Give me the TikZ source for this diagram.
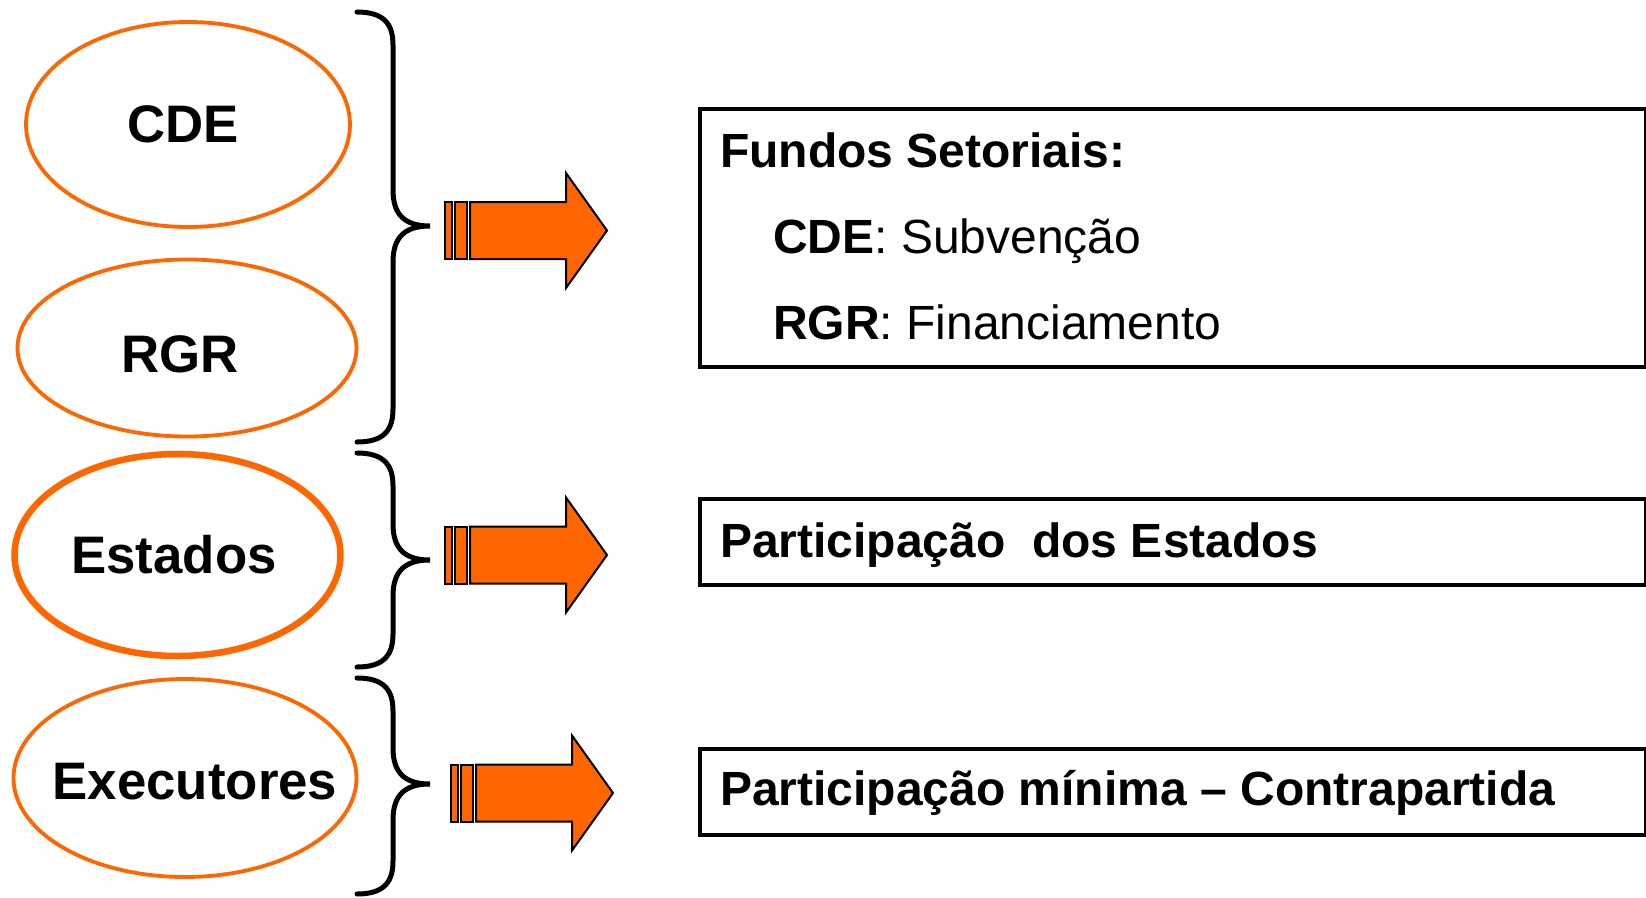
\documentclass[tikz,border=0pt]{standalone}
\usepackage{fontspec}
\setmainfont{Liberation Sans}
\usetikzlibrary{shapes.geometric}
\definecolor{orng}{HTML}{FF6600}
\tikzset{
  oval/.style={ellipse, draw=orng, line width=3.8pt, inner sep=0pt},
  ovaltext/.style={font=\fontsize{52.8}{60}\selectfont\bfseries, inner sep=0pt},
  infobox/.style={draw=black, line width=4pt, anchor=north west, inner sep=0pt, minimum width=946pt},
  boxtext/.style={font=\fontsize{48}{58}\selectfont, anchor=base west, inner sep=0pt},
  bracestyle/.style={draw=black, line width=5pt, line cap=round},
  arrowpart/.style={fill=orng, draw=black, line width=2pt, line join=miter},
  pics/bigarrow/.style={code={
    \path[arrowpart] (0,-28.5) rectangle (7,28.5);
    \path[arrowpart] (10,-28.5) rectangle (22,28.5);
    \path[arrowpart] (25,-28.5) -- (121,-28.5) -- (121,-57.5) -- (162,0) -- (121,57.5) -- (121,28.5) -- (25,28.5) -- cycle;
  }}
}
\newcommand\mybrace[3]{%
  \path[bracestyle] (357,#1) .. controls (385,#1) and (393,#1+13) .. (393,#1+33)
    -- (393,#2-36) .. controls (393,#2-11) and (405,#2) .. (430,#2)
    .. controls (405,#2) and (393,#2+11) .. (393,#2+36)
    -- (393,#3-33) .. controls (393,#3-13) and (385,#3) .. (357,#3);}
\begin{document}
\begin{tikzpicture}[x=1pt,y=-1pt]
\useasboundingbox (0,0) rectangle (1646,897);
% ellipses
\node[oval, minimum width=324pt, minimum height=205pt] (cde) at (188,124.5) {};
\node[oval, minimum width=339pt, minimum height=177pt] (rgr) at (187,348) {};
\node[oval, line width=6.5pt, minimum width=326pt, minimum height=202pt] (est) at (177.5,555) {};
\node[oval, minimum width=343pt, minimum height=198pt] (exe) at (185,778) {};
\node[ovaltext] (tcde) at (183,124) {CDE};
\node[ovaltext] (trgr) at (180,354) {RGR};
\node[ovaltext] (test) at (174,555) {Estados};
\node[ovaltext] (texe) at (195,782) {Executores};
% braces
\mybrace{12}{226}{442}
\mybrace{453}{560}{667}
\mybrace{678}{784}{894}
% arrows
\pic at (445,230.5) {bigarrow};
\pic at (445,555) {bigarrow};
\pic at (451,793) {bigarrow};
% boxes
\node[infobox, minimum height=258pt] (b1) at (698,107) {};
\node[infobox, minimum height=86pt] (b2) at (698,497) {};
\node[infobox, minimum height=86pt] (b3) at (698,747) {};
\node[boxtext] (f1) at (720,167) {\bfseries Fundos Setoriais:};
\node[boxtext] (f2) at (773,253) {\textbf{CDE}: Subvenção};
\node[boxtext] (f3) at (773,339) {\textbf{RGR}: Financiamento};
\node[boxtext] (p1) at (720,557) {\bfseries Participação \ dos Estados};
\node[boxtext] (p2) at (720,805) {\bfseries Participação mínima – Contrapartida};
\end{tikzpicture}
\end{document}
